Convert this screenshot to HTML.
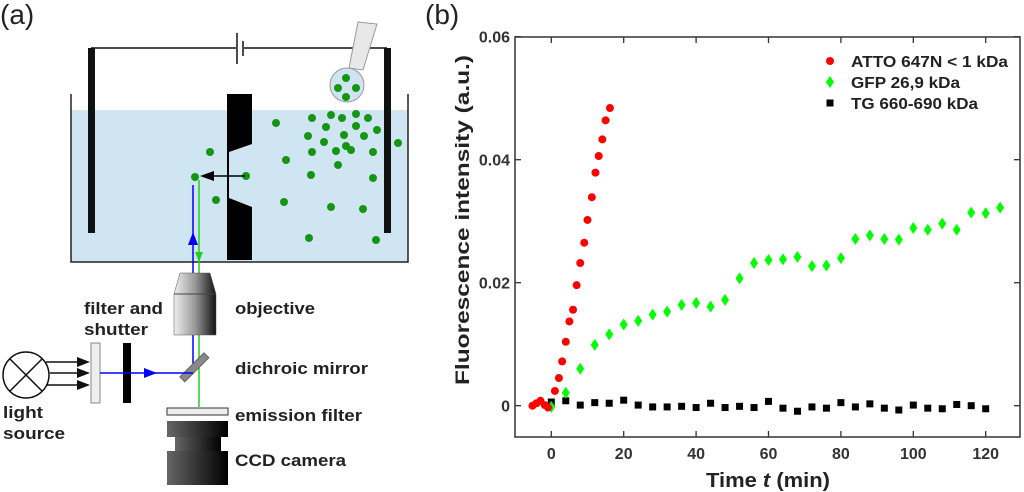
<!DOCTYPE html>
<html><head><meta charset="utf-8"><style>
body{margin:0;background:#fff;width:1024px;height:492px;overflow:hidden;font-family:"Liberation Sans",sans-serif}
svg{position:absolute;left:0;top:0}
.lb{font:bold 17px "Liberation Sans",sans-serif;fill:#222}
.tk{font:bold 16px "Liberation Sans",sans-serif;fill:#333}
</style></head><body>
<svg width="1024" height="492">
<defs>
<linearGradient id="og" x1="0" x2="1"><stop offset="0" stop-color="#eee"/><stop offset="0.5" stop-color="#999"/><stop offset="1" stop-color="#111"/></linearGradient>
<linearGradient id="cg" x1="0" x2="1"><stop offset="0" stop-color="#666"/><stop offset="0.5" stop-color="#333"/><stop offset="1" stop-color="#000"/></linearGradient>
</defs>
<g>
<text x="0" y="24" font-size="28" font-family="Liberation Sans" fill="#222">(a)</text>
<rect x="71" y="110" width="337" height="152" fill="#d0e5f2"/>
<path d="M71,94 V262 H408 V94" fill="none" stroke="#222" stroke-width="1.5"/>
<path d="M91,48 H236 M244,48 H387" stroke="#111" stroke-width="1.5"/>
<path d="M237,33 V64 M243,41 V56" stroke="#111" stroke-width="1.5"/>
<rect x="88" y="48" width="7" height="185" fill="#111"/>
<rect x="384" y="48" width="7" height="185" fill="#111"/>
<polygon points="227,94 252,94 252,144 229,152 229,198 252,207 252,260 227,260" fill="#000"/>
<polygon points="358,22 377,24 363,70 349,68" fill="#e8e8e8" stroke="#999"/>
<circle cx="347" cy="85" r="17" fill="#cfe3f0" stroke="#999"/>
<g fill="#149614" id="dots"></g>
<path d="M193,372 V185" stroke="#00f" stroke-width="1.5"/>
<polygon points="193,232 188,245 198,245" fill="#00f"/>
<path d="M199,180 V407" stroke="#2c2" stroke-width="1.5"/>
<polygon points="199,262 195,252 203,252" fill="#2c2"/>
<path d="M245,176 H210" stroke="#000" stroke-width="1.5"/><polygon points="200,176 214,171 214,181" fill="#000"/>
<circle cx="195" cy="177" r="4" fill="#149614"/>
<polygon points="180,273 210,273 216,294 216,335 174,335 174,294" fill="url(#og)" stroke="#555" stroke-width="0.5"/>
<line x1="174" y1="294" x2="216" y2="294" stroke="#444"/>
<rect x="177" y="364" width="34" height="7" fill="#888" stroke="#666" transform="rotate(-45 194 367)"/>
<rect x="167" y="408" width="61" height="7" fill="#eee" stroke="#333"/>
<rect x="167" y="421" width="61" height="16" fill="url(#cg)"/>
<rect x="175" y="437" width="46" height="14" fill="url(#cg)"/>
<rect x="167" y="451" width="61" height="34" fill="url(#cg)"/>
<circle cx="26" cy="375" r="23" fill="#fff" stroke="#111" stroke-width="1.5"/>
<path d="M10,359 L42,391 M42,359 L10,391" stroke="#111" stroke-width="1.5"/>
<path d="M46,362 H80 M50,373 H80 M46,385 H80" stroke="#111" stroke-width="1.5"/>
<polygon points="90,362 77,357 77,367" fill="#111"/><polygon points="90,373 77,368 77,378" fill="#111"/><polygon points="90,385 77,380 77,390" fill="#111"/>
<rect x="91" y="343" width="9" height="60" fill="#eee" stroke="#888"/>
<rect x="123" y="343" width="8" height="60" fill="#000"/>
<path d="M100,373 H193" stroke="#00f" stroke-width="1.5"/><polygon points="157,373 144,368 144,378" fill="#00f"/>
<text class="lb" x="235" y="314" textLength="80" lengthAdjust="spacingAndGlyphs">objective</text>
<text class="lb" x="235" y="374" textLength="133" lengthAdjust="spacingAndGlyphs">dichroic mirror</text>
<text class="lb" x="235" y="421" textLength="127" lengthAdjust="spacingAndGlyphs">emission filter</text>
<text class="lb" x="235" y="466" textLength="111" lengthAdjust="spacingAndGlyphs">CCD camera</text>
<text class="lb" x="84" y="314" textLength="79" lengthAdjust="spacingAndGlyphs">filter and</text>
<text class="lb" x="84" y="335" textLength="64" lengthAdjust="spacingAndGlyphs">shutter</text>
<text class="lb" x="3" y="418" textLength="40" lengthAdjust="spacingAndGlyphs">light</text>
<text class="lb" x="3" y="439" textLength="62" lengthAdjust="spacingAndGlyphs">source</text>
</g>
<g id="chart">
<text x="425" y="24" font-size="28" font-family="Liberation Sans" fill="#222">(b)</text>
</g>
</svg>
<script>
const NS="http://www.w3.org/2000/svg";
const dotPos=[[346,78],[338,88],[356,88],[346,97],[276,123],[312,118],[331,115],[342,118],[356,114],[368,118],[326,127],[356,126],[344,135],[308,136],[324,142],[364,136],[377,130],[398,143],[336,151],[346,146],[312,152],[351,150],[373,152],[286,160],[338,165],[311,175],[373,178],[210,152],[246,176],[216,200],[284,202],[331,207],[363,209],[309,238],[376,240]];
const dg=document.getElementById('dots');
dotPos.forEach(p=>{const c=document.createElementNS(NS,'circle');c.setAttribute('cx',p[0]);c.setAttribute('cy',p[1]);c.setAttribute('r',4);


dg.appendChild(c);});

const xTicks=[0,20,40,60,80,100,120];
const yTicks=[0,0.02,0.04,0.06];
const yTickLabels=["0","0.02","0.04","0.06"];
const attoT=[-5.2,-4.1,-3,-1.8,-0.9,1,2.1,3,4,5,6,7,8,9.1,10,11.2,12.2,13.1,14.1,15,16.2];
const attoV=[0,0.0004,0.0008,0.0001,-0.0003,0.0024,0.0045,0.0072,0.0104,0.0137,0.0156,0.0196,0.0232,0.0265,0.0302,0.0339,0.0379,0.0406,0.0433,0.0464,0.0484];
const gfpT=[0,4,8,12,16,20,24,28,32,36,40,44,48,52,56,60,64,68,72,76,80,84,88,92,96,100,104,108,112,116,120,124];
const gfpV=[-0.0002,0.0021,0.006,0.0099,0.0116,0.0132,0.0138,0.0148,0.0153,0.0164,0.0167,0.0161,0.0172,0.0207,0.0232,0.0237,0.0238,0.0242,0.0227,0.0228,0.024,0.0271,0.0277,0.0271,0.027,0.0289,0.0286,0.0296,0.0286,0.0314,0.0313,0.0322];
const tgT=[0,4,8,12,16,20,24,28,32,36,40,44,48,52,56,60,64,68,72,76,80,84,88,92,96,100,104,108,112,116,120];
const tgV=[0.0006,0.0008,0.0001,0.0005,0.0004,0.0009,0.0001,-0.0002,-0.0002,-0.0001,-0.0003,0.0004,-0.0003,-0.0001,-0.0003,0.0007,-0.0004,-0.0009,-0.0002,-0.0004,0.0005,-0.0002,0.0003,-0.0004,-0.0007,0.0001,-0.0004,-0.0005,0.0002,0,-0.0005];

const L=515,R=1020,T=37,B=437;
const X=t=>551.3+(t)*72.4/20;
const Y=v=>405.7-v*6150;
const g=document.getElementById('chart');
function el(tag,a){const e=document.createElementNS(NS,tag);for(const k in a)e.setAttribute(k,a[k]);g.appendChild(e);return e;}
const fr=el('rect',{x:L,y:T,width:R-L,height:B-T,fill:'none',stroke:'#333','stroke-width':1.5});


xTicks.forEach(t=>{
 el('line',{x1:X(t),x2:X(t),y1:B,y2:B-6,stroke:'#333','stroke-width':1.3});
 el('line',{x1:X(t),x2:X(t),y1:T,y2:T+6,stroke:'#333','stroke-width':1.3});
 const tx=el('text',{x:X(t),y:459,'text-anchor':'middle',class:'tk'});tx.textContent=t;
 
 
});
yTicks.forEach((v,i)=>{
 el('line',{x1:L,x2:L+6,y1:Y(v),y2:Y(v),stroke:'#333','stroke-width':1.3});
 el('line',{x1:R,x2:R-6,y1:Y(v),y2:Y(v),stroke:'#333','stroke-width':1.3});
 const tx=el('text',{x:510,y:Y(v)+6,'text-anchor':'end',class:'tk'});tx.textContent=yTickLabels[i];
 
 
});
const xt=el('text',{x:706,y:487,textLength:124,lengthAdjust:'spacingAndGlyphs',style:'font:bold 20px "Liberation Sans",sans-serif;fill:#222'});
xt.innerHTML='Time <tspan font-style="italic">t</tspan> (min)';


const yt=el('text',{x:-165,y:0,textLength:330,lengthAdjust:'spacingAndGlyphs',transform:'translate(469,220) rotate(-90)',style:'font:bold 19px "Liberation Sans",sans-serif;fill:#222'});
yt.textContent='Fluorescence intensity (a.u.)';


function circ(x,y){return el('circle',{cx:x,cy:y,r:4,fill:'#f00'});}
function dia(x,y){return el('polygon',{points:`${x},${y-6} ${x+4},${y} ${x},${y+6} ${x-4},${y}`,fill:'#0f0'});}
function sq(x,y){return el('rect',{x:x-3.5,y:y-3.5,width:7,height:7,fill:'#000'});}
tgT.forEach((t,i)=>{const m=sq(X(t),Y(tgV[i]));
 
 });
gfpT.forEach((t,i)=>{const m=dia(X(t),Y(gfpV[i]));
 
 });
attoT.forEach((t,i)=>{const m=circ(X(t),Y(attoV[i]));
 
 });
const lg=[['ATTO 647N < 1 kDa',circ,157],['GFP 26,9 kDa',dia,109],['TG 660-690 kDa',sq,127]];
lg.forEach((e,i)=>{const y=61+i*21;const m=e[1](830,y);
 
 
 const tx=el('text',{x:851,y:y+6,textLength:e[2],lengthAdjust:'spacingAndGlyphs',style:'font:bold 16px "Liberation Sans",sans-serif;fill:#222'});tx.textContent=e[0];
 
 });
</script>
</body></html>
